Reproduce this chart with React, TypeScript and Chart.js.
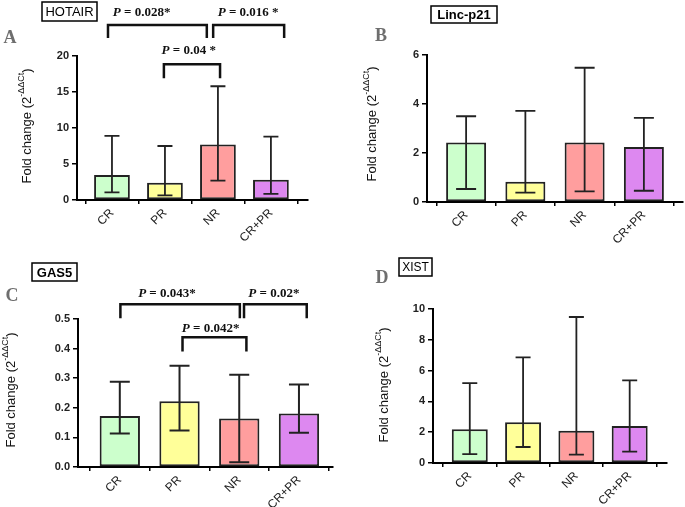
import React, { useEffect, useRef } from "react";
import { Chart, registerables } from "chart.js";
Chart.register(...registerables);

// ---------- data ----------
const categories = ["CR", "PR", "NR", "CR+PR"];

const hotairMedian = [3.47, 2.4, 7.7, 2.8];
const hotairLow = [1.07, 0.65, 2.7, 0.85];
const hotairHigh = [8.9, 7.5, 15.8, 8.8];
const hotairTicks = [0, 5, 10, 15, 20];

const lincMedian = [2.43, 0.83, 2.43, 2.25];
const lincLow = [0.53, 0.38, 0.43, 0.46];
const lincHigh = [3.5, 3.72, 5.48, 3.43];
const lincTicks = [0, 2, 4, 6];

const gas5Median = [0.172, 0.222, 0.164, 0.181];
const gas5Low = [0.113, 0.123, 0.016, 0.116];
const gas5High = [0.288, 0.342, 0.312, 0.279];
const gas5Ticks = [0, 0.1, 0.2, 0.3, 0.4, 0.5];

const xistMedian = [2.19, 2.65, 2.1, 2.41];
const xistLow = [0.57, 1.04, 0.55, 0.74];
const xistHigh = [5.19, 6.86, 9.48, 5.36];
const xistTicks = [0, 2, 4, 6, 8, 10];

// significance brackets: [from, to, top, drop] in data units
const hotairBrackets = [
  [-0.075, 1.79, 24.3, 22.5],
  [1.91, 3.25, 24.3, 22.5],
  [0.98, 2.04, 18.85, 16.9],
];
const hotairPLabels = ["= 0.028*", "= 0.016 *", "= 0.04 *"];
const hotairPLabelX = [0.56, 2.57, 1.45];
const hotairPLabelY = [26.0, 26.0, 20.7];

const gas5Brackets = [
  [0.01, 2.01, 0.55, 0.5025],
  [2.08, 3.13, 0.55, 0.5025],
  [1.05, 2.12, 0.438, 0.39],
];
const gas5PLabels = ["= 0.043*", "= 0.02*", "= 0.042*"];
const gas5PLabelX = [0.79, 2.58, 1.52];
const gas5PLabelY = [0.587, 0.587, 0.466];

const barColors = ["#ccffcc", "#ffff99", "#ff9e9e", "#dd88f0"];

// ---------- panels ----------
const SANS = "'Liberation Sans', Arial, sans-serif";
const SERIF = "'Liberation Serif', 'Times New Roman', serif";
const YW = 40;

interface Panel {
  title: string;
  titleBold: boolean;
  titleSize: number;
  letter: string;
  median: number[];
  low: number[];
  high: number[];
  ticks: number[];
  decimals: number;
  canvas: { left: number; top: number; w: number; h: number };
  area: { left: number; right: number; top: number; bottom: number };
  xRange: [number, number];
  brackets: number[][];
  pLabels: string[];
  pX: number[];
  pY: number[];
  titleBox: { x: number; y: number; w: number; h: number };
  letterPos: { x: number; y: number };
  yTitlePos: { x: number; y: number };
  cap: number;
  errWidth: number;
}

const panels: Panel[] = [
  {
    title: "HOTAIR", titleBold: false, titleSize: 13, letter: "A",
    median: hotairMedian, low: hotairLow, high: hotairHigh, ticks: hotairTicks, decimals: 0,
    canvas: { left: 0, top: 0, w: 340, h: 250 },
    area: { left: 77, right: 308, top: 56, bottom: 200 },
    xRange: [-0.66, 3.7],
    brackets: hotairBrackets, pLabels: hotairPLabels, pX: hotairPLabelX, pY: hotairPLabelY,
    titleBox: { x: 42, y: 2, w: 55, h: 19 },
    letterPos: { x: 10, y: 38 },
    yTitlePos: { x: 27, y: 126 },
    cap: 15, errWidth: 1.8,
  },
  {
    title: "Linc-p21", titleBold: true, titleSize: 13, letter: "B",
    median: lincMedian, low: lincLow, high: lincHigh, ticks: lincTicks, decimals: 0,
    canvas: { left: 340, top: 0, w: 345, h: 250 },
    area: { left: 87, right: 343, top: 55, bottom: 202 },
    xRange: [-0.66, 3.66],
    brackets: [], pLabels: [], pX: [], pY: [],
    titleBox: { x: 91, y: 6, w: 66, h: 17 },
    letterPos: { x: 41, y: 36 },
    yTitlePos: { x: 32, y: 124 },
    cap: 20, errWidth: 1.8,
  },
  {
    title: "GAS5", titleBold: true, titleSize: 13, letter: "C",
    median: gas5Median, low: gas5Low, high: gas5High, ticks: gas5Ticks, decimals: 1,
    canvas: { left: 0, top: 250, w: 340, h: 257 },
    area: { left: 78, right: 333, top: 69, bottom: 217 },
    xRange: [-0.7, 3.57],
    brackets: gas5Brackets, pLabels: gas5PLabels, pX: gas5PLabelX, pY: gas5PLabelY,
    titleBox: { x: 32, y: 13, w: 45, h: 18 },
    letterPos: { x: 12, y: 46 },
    yTitlePos: { x: 11, y: 140 },
    cap: 20, errWidth: 2,
  },
  {
    title: "XIST", titleBold: false, titleSize: 12, letter: "D",
    median: xistMedian, low: xistLow, high: xistHigh, ticks: xistTicks, decimals: 0,
    canvas: { left: 340, top: 250, w: 345, h: 257 },
    area: { left: 93, right: 327, top: 59, bottom: 213 },
    xRange: [-0.69, 3.7],
    brackets: [], pLabels: [], pX: [], pY: [],
    titleBox: { x: 59, y: 8, w: 33, h: 18 },
    letterPos: { x: 42, y: 28 },
    yTitlePos: { x: 44, y: 135 },
    cap: 15, errWidth: 1.8,
  },
];

function makeDecor(p: Panel) {
  return {
    id: "decor",
    afterDatasetsDraw(chart: any) {
      const ctx = chart.ctx;
      const xs = chart.scales.x;
      const ys = chart.scales.y;
      ctx.save();
      ctx.strokeStyle = "#222";
      ctx.lineWidth = p.errWidth;
      p.median.forEach((_, i) => {
        const x = xs.getPixelForValue(i);
        const yH = ys.getPixelForValue(p.high[i]);
        const yL = ys.getPixelForValue(p.low[i]);
        ctx.beginPath();
        ctx.moveTo(x, yH);
        ctx.lineTo(x, yL);
        ctx.moveTo(x - p.cap / 2, yH);
        ctx.lineTo(x + p.cap / 2, yH);
        ctx.moveTo(x - p.cap / 2, yL);
        ctx.lineTo(x + p.cap / 2, yL);
        ctx.stroke();
      });
      ctx.restore();
    },
    afterDraw(chart: any) {
      const ctx = chart.ctx;
      const xs = chart.scales.x;
      const ys = chart.scales.y;
      ctx.save();
      // brackets
      ctx.strokeStyle = "#111";
      ctx.lineWidth = 2.5;
      ctx.lineJoin = "miter";
      p.brackets.forEach((b) => {
        const x1 = xs.getPixelForValue(b[0]);
        const x2 = xs.getPixelForValue(b[1]);
        const yt = ys.getPixelForValue(b[2]);
        const yd = ys.getPixelForValue(b[3]);
        ctx.beginPath();
        ctx.moveTo(x1, yd);
        ctx.lineTo(x1, yt);
        ctx.lineTo(x2, yt);
        ctx.lineTo(x2, yd);
        ctx.stroke();
      });
      // P labels
      ctx.fillStyle = "#111";
      ctx.textBaseline = "middle";
      p.pLabels.forEach((t, i) => {
        const cx = xs.getPixelForValue(p.pX[i]);
        const cy = ys.getPixelForValue(p.pY[i]);
        const fP = `italic bold 13px ${SERIF}`;
        const fT = `bold 13px ${SERIF}`;
        ctx.font = fP;
        const wP = ctx.measureText("P").width;
        ctx.font = fT;
        const rest = " " + t;
        const wT = ctx.measureText(rest).width;
        const x0 = cx - (wP + wT) / 2;
        ctx.textAlign = "left";
        ctx.font = fP;
        ctx.fillText("P", x0, cy);
        ctx.font = fT;
        ctx.fillText(rest, x0 + wP, cy);
      });
      // title box
      const tb = p.titleBox;
      ctx.lineWidth = 1.5;
      ctx.strokeStyle = "#000";
      ctx.strokeRect(tb.x, tb.y, tb.w, tb.h);
      ctx.fillStyle = "#000";
      ctx.font = `${p.titleBold ? "bold " : ""}${p.titleSize}px ${SANS}`;
      ctx.textAlign = "center";
      ctx.textBaseline = "middle";
      ctx.fillText(p.title, tb.x + tb.w / 2, tb.y + tb.h / 2 + 1);
      // panel letter
      ctx.font = `bold 18px ${SERIF}`;
      ctx.fillStyle = "#6e6e6e";
      ctx.fillText(p.letter, p.letterPos.x, p.letterPos.y);
      // y axis title with superscript
      ctx.translate(p.yTitlePos.x, p.yTitlePos.y);
      ctx.rotate(-Math.PI / 2);
      ctx.fillStyle = "#111";
      const main = "Fold change (2";
      const sup = "-\u0394\u0394Ct";
      const close = ")";
      const fMain = `13px ${SANS}`;
      const fSup = `9px ${SANS}`;
      ctx.font = fMain;
      const w1 = ctx.measureText(main).width;
      const w3 = ctx.measureText(close).width;
      ctx.font = fSup;
      const w2 = ctx.measureText(sup).width;
      let x = -(w1 + w2 + w3) / 2;
      ctx.textAlign = "left";
      ctx.textBaseline = "middle";
      ctx.font = fMain;
      ctx.fillText(main, x, 0);
      x += w1;
      ctx.font = fSup;
      ctx.fillText(sup, x, -5);
      x += w2;
      ctx.font = fMain;
      ctx.fillText(close, x, 0);
      ctx.restore();
    },
  };
}

function PanelChart({ p }: { p: Panel }) {
  const ref = useRef<HTMLCanvasElement | null>(null);
  useEffect(() => {
    if (!ref.current) return;
    const xAxisH = p.canvas.h - p.area.bottom;
    const chart = new Chart(ref.current, {
      type: "bar",
      data: {
        datasets: [
          {
            data: p.median.map((v, i) => ({ x: i, y: v })),
            backgroundColor: barColors,
            borderColor: "#222",
            borderWidth: 2,
            borderSkipped: false,
            barPercentage: 0.75,
            categoryPercentage: 0.9,
          } as any,
        ],
      },
      options: {
        animation: false,
        responsive: false,
        devicePixelRatio: 1,
        layout: {
          padding: {
            left: p.area.left - YW,
            right: p.canvas.w - p.area.right,
            top: p.area.top,
            bottom: 0,
          },
        },
        plugins: {
          legend: { display: false },
          tooltip: { enabled: false },
          title: { display: false },
        },
        scales: {
          x: {
            type: "linear",
            min: p.xRange[0],
            max: p.xRange[1],
            offset: false,
            afterBuildTicks: (s: any) => {
              s.ticks = categories.map((_, i) => ({ value: i }));
            },
            afterFit: (s: any) => {
              s.height = xAxisH;
            },
            grid: {
              display: true,
              drawOnChartArea: false,
              drawTicks: true,
              tickLength: 4,
              color: "#000",
              lineWidth: 1.5,
            },
            border: { display: true, color: "#000", width: 2 },
            ticks: {
              autoSkip: false,
              minRotation: 45,
              maxRotation: 45,
              padding: 2,
              color: "#222",
              font: { family: SANS, size: 12 },
              callback: (v: any) => categories[Math.round(Number(v))] ?? "",
            },
          } as any,
          y: {
            type: "linear",
            min: 0,
            max: p.ticks[p.ticks.length - 1],
            afterBuildTicks: (s: any) => {
              s.ticks = p.ticks.map((v) => ({ value: v }));
            },
            afterFit: (s: any) => {
              s.width = YW;
            },
            grid: {
              display: true,
              drawOnChartArea: false,
              drawTicks: true,
              tickLength: 5,
              color: "#000",
              lineWidth: 1.5,
            },
            border: { display: true, color: "#000", width: 2 },
            ticks: {
              padding: 3,
              color: "#222",
              font: { family: SANS, size: 11, weight: "bold" },
              callback: (v: any) => Number(v).toFixed(p.decimals),
            },
          } as any,
        },
      },
      plugins: [makeDecor(p)],
    });
    return () => chart.destroy();
  }, [p]);
  return (
    <canvas
      ref={ref}
      width={p.canvas.w}
      height={p.canvas.h}
      style={{
        position: "absolute",
        left: p.canvas.left,
        top: p.canvas.top,
        width: p.canvas.w,
        height: p.canvas.h,
      }}
    />
  );
}

export default function App() {
  return (
    <div
      style={{
        position: "absolute",
        left: 0,
        top: 0,
        width: 685,
        height: 507,
        background: "#fff",
        overflow: "hidden",
      }}
    >
      {panels.map((p) => (
        <PanelChart key={p.title} p={p} />
      ))}
    </div>
  );
}
